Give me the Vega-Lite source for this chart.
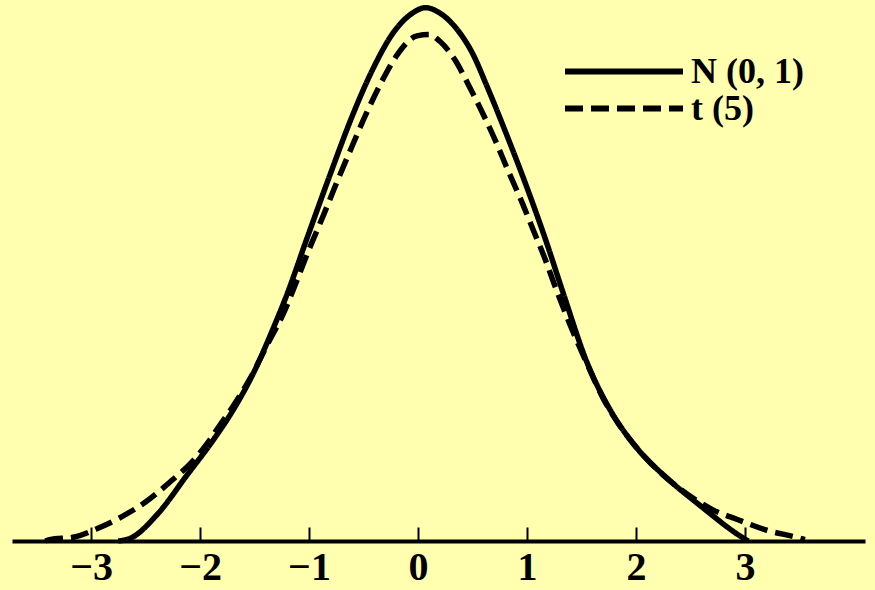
{
  "$schema": "https://vega.github.io/schema/vega-lite/v6.json",
  "width": 853,
  "height": 541,
  "autosize": {"type": "none"},
  "padding": {"left": 12, "top": 0, "right": 10, "bottom": 49},
  "background": "#FFFFAF",
  "config": {"view": {"stroke": null}, "font": "Liberation Serif"},
  "data": {
    "values": [
      {"dist": "N (0, 1)", "x": -2.75, "y": 0.0},
      {"dist": "N (0, 1)", "x": -2.64, "y": 0.002},
      {"dist": "N (0, 1)", "x": -2.39, "y": 0.02},
      {"dist": "N (0, 1)", "x": -2.12, "y": 0.049},
      {"dist": "N (0, 1)", "x": -1.88, "y": 0.075},
      {"dist": "N (0, 1)", "x": -1.7, "y": 0.097},
      {"dist": "N (0, 1)", "x": -1.51, "y": 0.125},
      {"dist": "N (0, 1)", "x": -1.33, "y": 0.158},
      {"dist": "N (0, 1)", "x": -1.2, "y": 0.184},
      {"dist": "N (0, 1)", "x": -1.02, "y": 0.225},
      {"dist": "N (0, 1)", "x": -0.81, "y": 0.272},
      {"dist": "N (0, 1)", "x": -0.6, "y": 0.317},
      {"dist": "N (0, 1)", "x": -0.41, "y": 0.352},
      {"dist": "N (0, 1)", "x": -0.23, "y": 0.378},
      {"dist": "N (0, 1)", "x": -0.05, "y": 0.393},
      {"dist": "N (0, 1)", "x": 0.07, "y": 0.397},
      {"dist": "N (0, 1)", "x": 0.2, "y": 0.393},
      {"dist": "N (0, 1)", "x": 0.385, "y": 0.378},
      {"dist": "N (0, 1)", "x": 0.5, "y": 0.363},
      {"dist": "N (0, 1)", "x": 0.63, "y": 0.339},
      {"dist": "N (0, 1)", "x": 0.82, "y": 0.301},
      {"dist": "N (0, 1)", "x": 1.0, "y": 0.263},
      {"dist": "N (0, 1)", "x": 1.18, "y": 0.222},
      {"dist": "N (0, 1)", "x": 1.33, "y": 0.185},
      {"dist": "N (0, 1)", "x": 1.55, "y": 0.133},
      {"dist": "N (0, 1)", "x": 1.76, "y": 0.098},
      {"dist": "N (0, 1)", "x": 2.01, "y": 0.069},
      {"dist": "N (0, 1)", "x": 2.31, "y": 0.045},
      {"dist": "N (0, 1)", "x": 2.61, "y": 0.025},
      {"dist": "N (0, 1)", "x": 2.95, "y": 0.004},
      {"dist": "N (0, 1)", "x": 3.03, "y": 0.0},
      {"dist": "t (5)", "x": -3.42, "y": 0.0},
      {"dist": "t (5)", "x": -3.38, "y": 0.001},
      {"dist": "t (5)", "x": -3.15, "y": 0.003},
      {"dist": "t (5)", "x": -2.92, "y": 0.01},
      {"dist": "t (5)", "x": -2.72, "y": 0.018},
      {"dist": "t (5)", "x": -2.5, "y": 0.029},
      {"dist": "t (5)", "x": -2.26, "y": 0.045},
      {"dist": "t (5)", "x": -2.06, "y": 0.06},
      {"dist": "t (5)", "x": -1.93, "y": 0.073},
      {"dist": "t (5)", "x": -1.82, "y": 0.086},
      {"dist": "t (5)", "x": -1.7, "y": 0.1},
      {"dist": "t (5)", "x": -1.54, "y": 0.121},
      {"dist": "t (5)", "x": -1.39, "y": 0.145},
      {"dist": "t (5)", "x": -1.22, "y": 0.172},
      {"dist": "t (5)", "x": -1.13, "y": 0.19},
      {"dist": "t (5)", "x": -1.01, "y": 0.215},
      {"dist": "t (5)", "x": -0.87, "y": 0.242},
      {"dist": "t (5)", "x": -0.76, "y": 0.264},
      {"dist": "t (5)", "x": -0.62, "y": 0.291},
      {"dist": "t (5)", "x": -0.47, "y": 0.319},
      {"dist": "t (5)", "x": -0.32, "y": 0.344},
      {"dist": "t (5)", "x": -0.19, "y": 0.362},
      {"dist": "t (5)", "x": -0.01, "y": 0.376},
      {"dist": "t (5)", "x": 0.1, "y": 0.377},
      {"dist": "t (5)", "x": 0.2, "y": 0.372},
      {"dist": "t (5)", "x": 0.34, "y": 0.358},
      {"dist": "t (5)", "x": 0.46, "y": 0.34},
      {"dist": "t (5)", "x": 0.59, "y": 0.319},
      {"dist": "t (5)", "x": 0.71, "y": 0.298},
      {"dist": "t (5)", "x": 0.83, "y": 0.275},
      {"dist": "t (5)", "x": 0.96, "y": 0.251},
      {"dist": "t (5)", "x": 1.06, "y": 0.231},
      {"dist": "t (5)", "x": 1.17, "y": 0.209},
      {"dist": "t (5)", "x": 1.26, "y": 0.189},
      {"dist": "t (5)", "x": 1.39, "y": 0.162},
      {"dist": "t (5)", "x": 1.55, "y": 0.132},
      {"dist": "t (5)", "x": 1.7, "y": 0.106},
      {"dist": "t (5)", "x": 1.85, "y": 0.086},
      {"dist": "t (5)", "x": 1.97, "y": 0.073},
      {"dist": "t (5)", "x": 2.1, "y": 0.061},
      {"dist": "t (5)", "x": 2.25, "y": 0.049},
      {"dist": "t (5)", "x": 2.4, "y": 0.039},
      {"dist": "t (5)", "x": 2.56, "y": 0.03},
      {"dist": "t (5)", "x": 2.71, "y": 0.023},
      {"dist": "t (5)", "x": 2.93, "y": 0.016},
      {"dist": "t (5)", "x": 3.2, "y": 0.008},
      {"dist": "t (5)", "x": 3.46, "y": 0.003},
      {"dist": "t (5)", "x": 3.55, "y": 0.001}
    ]
  },
  "mark": {"type": "line", "interpolate": "monotone", "color": "black", "strokeWidth": 5.5, "clip": false},
  "encoding": {
    "x": {
      "field": "x",
      "type": "quantitative",
      "scale": {"domain": [-3.725, 4.101], "nice": false, "zero": false},
      "axis": {
        "values": [-3, -2, -1, 0, 1, 2, 3],
        "title": null,
        "grid": false,
        "domainColor": "black",
        "domainWidth": 4,
        "tickColor": "black",
        "tickWidth": 2,
        "tickSize": -14,
        "labelFont": "Liberation Serif",
        "labelFontWeight": "bold",
        "labelFontSize": 40,
        "labelColor": "black",
        "labelPadding": 20,
        "labelFlush": false,
        "labelOverlap": false
      }
    },
    "y": {
      "field": "y",
      "type": "quantitative",
      "scale": {"domain": [0, 0.4027], "nice": false, "zero": true},
      "axis": null
    },
    "strokeDash": {
      "field": "dist",
      "type": "nominal",
      "scale": {"domain": ["N (0, 1)", "t (5)"], "range": [[1, 0], [18, 8]]},
      "legend": {
        "orient": "none",
        "legendX": 550,
        "legendY": 56,
        "title": null,
        "padding": 0,
        "symbolType": "stroke",
        "symbolSize": 13924,
        "symbolStrokeWidth": 6,
        "symbolStrokeColor": "black",
        "labelFont": "Liberation Serif",
        "labelFontWeight": "bold",
        "labelFontSize": 36,
        "labelColor": "black",
        "labelOffset": 5,
        "clipHeight": 31,
        "rowPadding": 0
      }
    }
  }
}
